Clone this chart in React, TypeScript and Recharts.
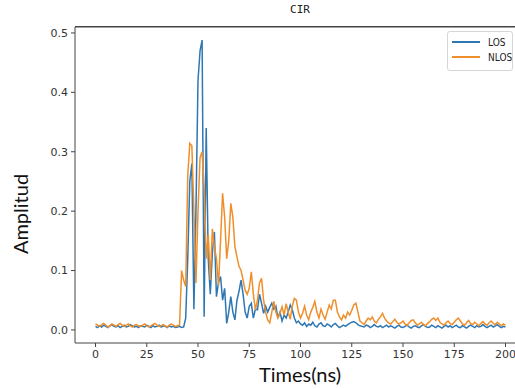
import React from 'react';
import { LineChart, Line, XAxis, YAxis, CartesianGrid } from 'recharts';

// amplitude per ns, t = 0..200
const LOS = [
  0.006, 0.004, 0.007, 0.005, 0.008, 0.006, 0.004, 0.007, 0.009, 0.006,
  0.005, 0.007, 0.004, 0.006, 0.008, 0.005, 0.006, 0.009, 0.007, 0.005,
  0.006, 0.004, 0.007, 0.006, 0.005, 0.008, 0.006, 0.004, 0.007, 0.005,
  0.006, 0.008, 0.005, 0.007, 0.006, 0.004, 0.007, 0.005, 0.006, 0.004,
  0.005, 0.006, 0.004, 0.005, 0.02, 0.12, 0.25, 0.28, 0.035, 0.2,
  0.42, 0.47, 0.488, 0.022, 0.34, 0.12, 0.06, 0.13, 0.165, 0.056,
  0.08, 0.09, 0.05, 0.07, 0.011, 0.03, 0.056, 0.03, 0.017, 0.05,
  0.065, 0.084, 0.06, 0.03, 0.02, 0.04, 0.045, 0.02, 0.035, 0.034,
  0.06, 0.045, 0.028, 0.04, 0.03, 0.038, 0.045, 0.035, 0.04, 0.02,
  0.03, 0.015, 0.025, 0.02, 0.03, 0.042, 0.034, 0.02, 0.012, 0.015,
  0.01, 0.008, 0.012, 0.006, 0.01, 0.008, 0.013, 0.007, 0.005, 0.01,
  0.012, 0.007, 0.006, 0.01, 0.008, 0.005, 0.009, 0.011, 0.007, 0.004,
  0.006, 0.008, 0.006, 0.009, 0.011, 0.013, 0.014, 0.012, 0.009, 0.007,
  0.006, 0.005, 0.008, 0.007, 0.004, 0.006, 0.009, 0.006, 0.005, 0.007,
  0.004, 0.006, 0.008, 0.005, 0.007, 0.005, 0.003, 0.006, 0.008, 0.005,
  0.004, 0.006, 0.008, 0.005, 0.003, 0.006, 0.007, 0.005, 0.004, 0.007,
  0.009, 0.006, 0.004, 0.005, 0.008, 0.006, 0.004, 0.007, 0.005, 0.003,
  0.006, 0.008, 0.005, 0.007, 0.004, 0.006, 0.008, 0.005, 0.004, 0.007,
  0.005, 0.003, 0.006, 0.008, 0.006, 0.004, 0.007, 0.005, 0.006, 0.009,
  0.006, 0.004, 0.006, 0.008, 0.005, 0.007, 0.009, 0.006, 0.004, 0.006,
  0.005,
];

const NLOS = [
  0.01, 0.008, 0.006, 0.009, 0.011, 0.008, 0.005, 0.007, 0.01, 0.008,
  0.006, 0.009, 0.011, 0.008, 0.006, 0.008, 0.01, 0.007, 0.005, 0.008,
  0.009, 0.007, 0.006, 0.008, 0.01, 0.007, 0.005, 0.007, 0.009, 0.011,
  0.008, 0.006, 0.007, 0.009, 0.007, 0.005, 0.008, 0.01, 0.008, 0.006,
  0.007, 0.008, 0.1, 0.084, 0.073, 0.26, 0.314, 0.31, 0.2, 0.079,
  0.2, 0.29, 0.3, 0.24, 0.12, 0.16, 0.084, 0.17, 0.14, 0.12,
  0.075, 0.15, 0.23, 0.19, 0.12, 0.15, 0.213, 0.19, 0.14, 0.123,
  0.107, 0.1, 0.084, 0.067, 0.06, 0.07, 0.098, 0.06, 0.034, 0.05,
  0.079, 0.087, 0.05, 0.03, 0.017, 0.012, 0.03, 0.048, 0.03, 0.02,
  0.028, 0.039, 0.025, 0.044, 0.03, 0.018, 0.04, 0.053, 0.05, 0.03,
  0.02, 0.028, 0.04, 0.025, 0.017, 0.03, 0.038, 0.048, 0.03, 0.02,
  0.035, 0.025, 0.018, 0.03, 0.042, 0.035, 0.05, 0.05, 0.03, 0.022,
  0.017, 0.025, 0.02, 0.03, 0.025, 0.033, 0.042, 0.045, 0.03, 0.015,
  0.012, 0.009, 0.015, 0.02, 0.017, 0.022, 0.015, 0.012, 0.018, 0.022,
  0.028, 0.02, 0.015, 0.012, 0.01, 0.014, 0.018, 0.013, 0.01, 0.012,
  0.015, 0.01, 0.008, 0.012, 0.016, 0.017, 0.012, 0.008, 0.01, 0.013,
  0.009, 0.007, 0.011, 0.014, 0.018, 0.02, 0.016, 0.02, 0.013, 0.01,
  0.008, 0.012, 0.015, 0.011, 0.009, 0.013, 0.017, 0.02, 0.015, 0.01,
  0.008, 0.012, 0.016, 0.011, 0.009, 0.013, 0.01, 0.007, 0.011, 0.014,
  0.01, 0.008, 0.012, 0.015, 0.011, 0.009, 0.013, 0.01, 0.007, 0.01,
  0.008,
];

const X_TICKS = [0, 25, 50, 75, 100, 125, 150, 175, 200];
const Y_TICKS = [0, 0.1, 0.2, 0.3, 0.4, 0.5];
const X_DOMAIN = [-10, 210];
const Y_DOMAIN = [-0.022, 0.51];

const BLUE = '#2f77b3';
const ORANGE = '#ef8f2c';
const AXIS = '#444';

const data = LOS.map((v, i) => ({ t: i, los: v, nlos: NLOS[i] }));

const tickStyle = { fill: '#333', fontSize: 11, fontFamily: 'DejaVu Sans' };

export default function App() {
  return (
    <div
      style={{
        position: 'fixed',
        left: 0,
        top: 0,
        width: 515,
        height: 389,
        overflow: 'hidden',
        background: '#fff',
      }}
    >
      <LineChart
        width={527}
        height={389}
        data={data}
        margin={{ top: 27, right: 1, bottom: 16, left: 25 }}
      >
        {/* top spine drawn as a single grid line at the top of the y domain */}
        <CartesianGrid
          vertical={false}
          horizontalValues={[Y_DOMAIN[1]]}
          stroke={AXIS}
          strokeOpacity={1}
        />
        <XAxis
          dataKey="t"
          type="number"
          domain={X_DOMAIN}
          ticks={X_TICKS}
          height={30}
          tickSize={4}
          tickMargin={3}
          stroke={AXIS}
          tick={tickStyle}
          allowDataOverflow
        />
        <YAxis
          type="number"
          domain={Y_DOMAIN}
          ticks={Y_TICKS}
          width={50}
          tickSize={4}
          tickMargin={3}
          stroke={AXIS}
          tick={tickStyle}
          tickFormatter={(v: number) => v.toFixed(1)}
          allowDataOverflow
        />
        <Line
          dataKey="los"
          stroke={BLUE}
          strokeWidth={1.5}
          dot={false}
          type="linear"
          isAnimationActive={false}
        />
        <Line
          dataKey="nlos"
          stroke={ORANGE}
          strokeWidth={1.5}
          dot={false}
          type="linear"
          isAnimationActive={false}
        />
      </LineChart>

      <div
        style={{
          position: 'absolute',
          left: 75,
          top: 26,
          width: 452,
          height: 1,
          background: AXIS,
        }}
      />

      <div
        style={{
          position: 'absolute',
          left: 250,
          width: 100,
          top: 3,
          textAlign: 'center',
          fontFamily: 'DejaVu Sans Mono',
          fontSize: 11,
          color: '#222',
        }}
      >
        CIR
      </div>

      <div
        style={{
          position: 'absolute',
          left: 200,
          width: 200,
          top: 362,
          textAlign: 'center',
          fontFamily: 'Lato',
          fontSize: 20,
          color: '#111',
        }}
      >
        Times(ns)
      </div>

      <div
        style={{
          position: 'absolute',
          left: 20,
          top: 214,
          transform: 'translate(-50%, -50%) rotate(-90deg)',
          fontFamily: 'Lato',
          fontSize: 20,
          color: '#111',
          whiteSpace: 'nowrap',
        }}
      >
        Amplitud
      </div>

      <div
        style={{
          position: 'absolute',
          left: 447,
          top: 31,
          width: 64,
          height: 38,
          border: '1px solid #d6d6d6',
          borderRadius: 3,
          background: 'rgba(255,255,255,0.85)',
          fontFamily: 'Liberation Sans Narrow, DejaVu Sans Condensed, sans-serif',
          fontSize: 10,
          color: '#222',
        }}
      >
        {[
          { name: 'LOS', color: BLUE },
          { name: 'NLOS', color: ORANGE },
        ].map((s, i) => (
          <div
            key={s.name}
            style={{ position: 'absolute', left: 4, top: 4 + i * 15, height: 12, display: 'flex', alignItems: 'center' }}
          >
            <div style={{ width: 28, height: 2, background: s.color }} />
            <span style={{ marginLeft: 8 }}>{s.name}</span>
          </div>
        ))}
      </div>
    </div>
  );
}
